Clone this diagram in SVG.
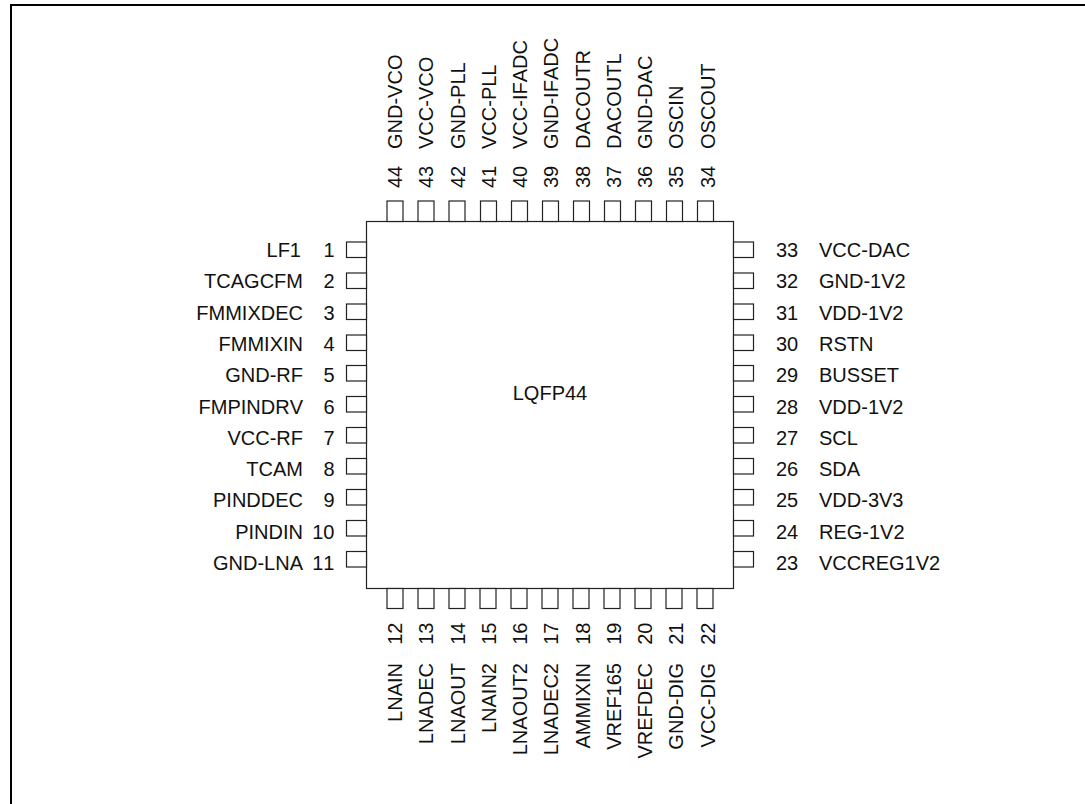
<svg xmlns="http://www.w3.org/2000/svg" width="1085" height="804" viewBox="0 0 1085 804">
<style>
text{font-family:"Liberation Sans",Arial,sans-serif;font-size:20px;font-kerning:none;fill:#111}
.p{fill:#fff;stroke:#222;stroke-width:1.2}
.e{text-anchor:end}
</style>
<rect width="1085" height="804" fill="#fff"/>
<path id="frame" d="M11 804V5H1085" fill="none" stroke="#000" stroke-width="2"/>
<g id="chip"><rect class="p" x="366.5" y="221.5" width="367" height="367"/><text x="550" y="400" text-anchor="middle">LQFP44</text></g>
<g id="pin1"><rect class="p" x="346.5" y="242" width="20" height="15.5"/><text class="e" x="334.5" y="257">1</text><text class="e" x="301" y="257">LF1</text></g>
<g id="pin2"><rect class="p" x="346.5" y="273" width="20" height="15.5"/><text class="e" x="334.5" y="288.3">2</text><text class="e" x="303" y="288.3">TCAGCFM</text></g>
<g id="pin3"><rect class="p" x="346.5" y="304" width="20" height="15.5"/><text class="e" x="334.5" y="319.6">3</text><text class="e" x="303" y="319.6">FMMIXDEC</text></g>
<g id="pin4"><rect class="p" x="346.5" y="335" width="20" height="15.5"/><text class="e" x="334.5" y="350.9">4</text><text class="e" x="303" y="350.9">FMMIXIN</text></g>
<g id="pin5"><rect class="p" x="346.5" y="365.5" width="20" height="15.5"/><text class="e" x="334.5" y="382.2">5</text><text class="e" x="303" y="382.2">GND-RF</text></g>
<g id="pin6"><rect class="p" x="346.5" y="396.5" width="20" height="15.5"/><text class="e" x="334.5" y="413.5">6</text><text class="e" x="303" y="413.5">FMPINDRV</text></g>
<g id="pin7"><rect class="p" x="346.5" y="427.5" width="20" height="15.5"/><text class="e" x="334.5" y="444.8">7</text><text class="e" x="303" y="444.8">VCC-RF</text></g>
<g id="pin8"><rect class="p" x="346.5" y="458.5" width="20" height="15.5"/><text class="e" x="334.5" y="476.1">8</text><text class="e" x="303" y="476.1">TCAM</text></g>
<g id="pin9"><rect class="p" x="346.5" y="489.5" width="20" height="15.5"/><text class="e" x="334.5" y="507.4">9</text><text class="e" x="303" y="507.4">PINDDEC</text></g>
<g id="pin10"><rect class="p" x="346.5" y="520.5" width="20" height="15.5"/><text class="e" x="334.5" y="538.7">10</text><text class="e" x="303" y="538.7">PINDIN</text></g>
<g id="pin11"><rect class="p" x="346.5" y="551.5" width="20" height="15.5"/><text class="e" x="334.5" y="570">11</text><text class="e" x="303" y="570">GND-LNA</text></g>
<g id="pin12"><rect class="p" x="387" y="588.5" width="16" height="20"/><text class="e" transform="translate(402 622.5) rotate(-90)">12</text><text class="e" transform="translate(402 663) rotate(-90)">LNAIN</text></g>
<g id="pin13"><rect class="p" x="418" y="588.5" width="16" height="20"/><text class="e" transform="translate(433.3 622.5) rotate(-90)">13</text><text class="e" transform="translate(433.3 663) rotate(-90)">LNADEC</text></g>
<g id="pin14"><rect class="p" x="449" y="588.5" width="16" height="20"/><text class="e" transform="translate(464.5 622.5) rotate(-90)">14</text><text class="e" transform="translate(464.5 663) rotate(-90)">LNAOUT</text></g>
<g id="pin15"><rect class="p" x="480" y="588.5" width="16" height="20"/><text class="e" transform="translate(495.8 622.5) rotate(-90)">15</text><text class="e" transform="translate(495.8 663) rotate(-90)">LNAIN2</text></g>
<g id="pin16"><rect class="p" x="511" y="588.5" width="16" height="20"/><text class="e" transform="translate(527.1 622.5) rotate(-90)">16</text><text class="e" transform="translate(527.1 663) rotate(-90)">LNAOUT2</text></g>
<g id="pin17"><rect class="p" x="542" y="588.5" width="16" height="20"/><text class="e" transform="translate(558.4 622.5) rotate(-90)">17</text><text class="e" transform="translate(558.4 663) rotate(-90)">LNADEC2</text></g>
<g id="pin18"><rect class="p" x="573" y="588.5" width="16" height="20"/><text class="e" transform="translate(589.6 622.5) rotate(-90)">18</text><text class="e" transform="translate(589.6 663) rotate(-90)">AMMIXIN</text></g>
<g id="pin19"><rect class="p" x="604" y="588.5" width="16" height="20"/><text class="e" transform="translate(620.9 622.5) rotate(-90)">19</text><text class="e" transform="translate(620.9 663) rotate(-90)">VREF165</text></g>
<g id="pin20"><rect class="p" x="635" y="588.5" width="16" height="20"/><text class="e" transform="translate(652.2 622.5) rotate(-90)">20</text><text class="e" transform="translate(652.2 663) rotate(-90)">VREFDEC</text></g>
<g id="pin21"><rect class="p" x="666" y="588.5" width="16" height="20"/><text class="e" transform="translate(683.4 622.5) rotate(-90)">21</text><text class="e" transform="translate(683.4 663) rotate(-90)">GND-DIG</text></g>
<g id="pin22"><rect class="p" x="697" y="588.5" width="16" height="20"/><text class="e" transform="translate(714.7 622.5) rotate(-90)">22</text><text class="e" transform="translate(714.7 663) rotate(-90)">VCC-DIG</text></g>
<g id="pin23"><rect class="p" x="733.5" y="551.5" width="20" height="15.5"/><text x="776" y="570">23</text><text x="819" y="570">VCCREG1V2</text></g>
<g id="pin24"><rect class="p" x="733.5" y="520.5" width="20" height="15.5"/><text x="776" y="538.7">24</text><text x="819" y="538.7">REG-1V2</text></g>
<g id="pin25"><rect class="p" x="733.5" y="489.5" width="20" height="15.5"/><text x="776" y="507.4">25</text><text x="819" y="507.4">VDD-3V3</text></g>
<g id="pin26"><rect class="p" x="733.5" y="458.5" width="20" height="15.5"/><text x="776" y="476.1">26</text><text x="819" y="476.1">SDA</text></g>
<g id="pin27"><rect class="p" x="733.5" y="427.5" width="20" height="15.5"/><text x="776" y="444.8">27</text><text x="819" y="444.8">SCL</text></g>
<g id="pin28"><rect class="p" x="733.5" y="396.5" width="20" height="15.5"/><text x="776" y="413.5">28</text><text x="819" y="413.5">VDD-1V2</text></g>
<g id="pin29"><rect class="p" x="733.5" y="365.5" width="20" height="15.5"/><text x="776" y="382.2">29</text><text x="819" y="382.2">BUSSET</text></g>
<g id="pin30"><rect class="p" x="733.5" y="335" width="20" height="15.5"/><text x="776" y="350.9">30</text><text x="819" y="350.9">RSTN</text></g>
<g id="pin31"><rect class="p" x="733.5" y="304" width="20" height="15.5"/><text x="776" y="319.6">31</text><text x="819" y="319.6">VDD-1V2</text></g>
<g id="pin32"><rect class="p" x="733.5" y="273" width="20" height="15.5"/><text x="776" y="288.3">32</text><text x="819" y="288.3">GND-1V2</text></g>
<g id="pin33"><rect class="p" x="733.5" y="242" width="20" height="15.5"/><text x="776" y="257">33</text><text x="819" y="257">VCC-DAC</text></g>
<g id="pin34"><rect class="p" x="697.5" y="201" width="16" height="20.5"/><text transform="translate(714.7 188) rotate(-90)">34</text><text transform="translate(714.7 149) rotate(-90)">OSCOUT</text></g>
<g id="pin35"><rect class="p" x="666.5" y="201" width="16" height="20.5"/><text transform="translate(683.4 188) rotate(-90)">35</text><text transform="translate(683.4 149) rotate(-90)">OSCIN</text></g>
<g id="pin36"><rect class="p" x="635.5" y="201" width="16" height="20.5"/><text transform="translate(652.2 188) rotate(-90)">36</text><text transform="translate(652.2 149) rotate(-90)">GND-DAC</text></g>
<g id="pin37"><rect class="p" x="604.5" y="201" width="16" height="20.5"/><text transform="translate(620.9 188) rotate(-90)">37</text><text transform="translate(620.9 149) rotate(-90)">DACOUTL</text></g>
<g id="pin38"><rect class="p" x="573.5" y="201" width="16" height="20.5"/><text transform="translate(589.6 188) rotate(-90)">38</text><text transform="translate(589.6 149) rotate(-90)">DACOUTR</text></g>
<g id="pin39"><rect class="p" x="542.5" y="201" width="16" height="20.5"/><text transform="translate(558.4 188) rotate(-90)">39</text><text transform="translate(558.4 149) rotate(-90)">GND-IFADC</text></g>
<g id="pin40"><rect class="p" x="511.5" y="201" width="16" height="20.5"/><text transform="translate(527.1 188) rotate(-90)">40</text><text transform="translate(527.1 149) rotate(-90)">VCC-IFADC</text></g>
<g id="pin41"><rect class="p" x="480.5" y="201" width="16" height="20.5"/><text transform="translate(495.8 188) rotate(-90)">41</text><text transform="translate(495.8 149) rotate(-90)">VCC-PLL</text></g>
<g id="pin42"><rect class="p" x="449" y="201" width="16" height="20.5"/><text transform="translate(464.5 188) rotate(-90)">42</text><text transform="translate(464.5 149) rotate(-90)">GND-PLL</text></g>
<g id="pin43"><rect class="p" x="418" y="201" width="16" height="20.5"/><text transform="translate(433.3 188) rotate(-90)">43</text><text transform="translate(433.3 149) rotate(-90)">VCC-VCO</text></g>
<g id="pin44"><rect class="p" x="387" y="201" width="16" height="20.5"/><text transform="translate(402 188) rotate(-90)">44</text><text transform="translate(402 149) rotate(-90)">GND-VCO</text></g>
<g id="connectors"/>
</svg>
